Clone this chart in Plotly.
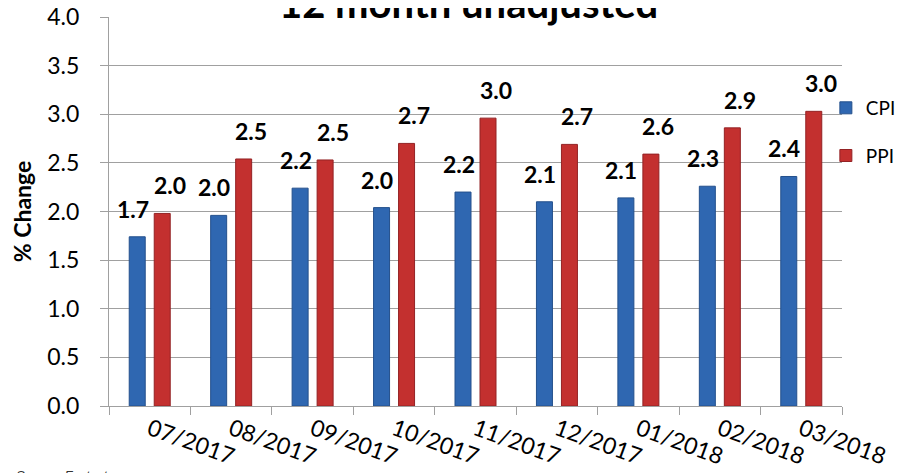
import plotly.graph_objects as go

months = ["07/2017", "08/2017", "09/2017", "10/2017", "11/2017",
          "12/2017", "01/2018", "02/2018", "03/2018"]
cpi = [1.74, 1.96, 2.24, 2.04, 2.20, 2.10, 2.14, 2.26, 2.36]
ppi = [1.98, 2.54, 2.53, 2.70, 2.96, 2.69, 2.59, 2.86, 3.03]
y_ticks = [0.0, 0.5, 1.0, 1.5, 2.0, 2.5, 3.0, 3.5, 4.0]

FONT = "Lato"
GRID = "#A0A0A0"

fig = go.Figure()
fig.add_trace(go.Bar(name="CPI", x=months, y=cpi, legendgroup="a",
                     marker=dict(color="#2F67B1", line=dict(color="#24508C", width=1))))
fig.add_trace(go.Bar(name="PPI", x=months, y=ppi, legendgroup="b",
                     marker=dict(color="#C3302F", line=dict(color="#932224", width=1))))

annotations = []
for vals, xs in ((cpi, -17), (ppi, 20)):
    for m, v in zip(months, vals):
        annotations.append(dict(x=m, y=v, xref="x", yref="y", text=f"{v:.1f}",
                                showarrow=False, xshift=xs, yshift=12, yanchor="bottom",
                                font=dict(family=FONT, size=23, color="black", weight="bold")))

annotations.append(dict(x=0.49, y=0.968, xref="paper", yref="paper",
                        text="<b>12 month unadjusted</b>", showarrow=False,
                        yanchor="bottom", font=dict(family=FONT, size=40, color="black")))
annotations.append(dict(x=-0.13, y=-0.155, xref="paper", yref="paper", xanchor="left",
                        yanchor="top", text="<i>Source: Factset</i>", showarrow=False,
                        font=dict(family="Liberation Sans", size=13, color="#333333")))

fig.update_layout(
    width=905, height=473,
    margin=dict(l=101, r=71, t=9, b=75, autoexpand=False),
    paper_bgcolor="white", plot_bgcolor="white",
    barmode="group", bargap=0.386, bargroupgap=0.36,
    font=dict(family=FONT, size=23, color="black"),
    showlegend=True,
    legend=dict(x=0.978, y=0.815, xanchor="left", yanchor="top", tracegroupgap=20,
                font=dict(family=FONT, size=19), itemwidth=30, bgcolor="rgba(0,0,0,0)"),
    annotations=annotations,
)
fig.update_xaxes(type="category", tickangle=20, showline=True, linecolor=GRID, linewidth=1,
                 ticks="outside", ticklen=8, tickcolor=GRID, tickson="boundaries",
                 showgrid=False, automargin=False, tickfont=dict(family=FONT, size=23))
fig.update_yaxes(range=[0, 4], tickvals=y_ticks, tickformat=".1f", showline=True,
                 linecolor=GRID, linewidth=1, showgrid=True, gridcolor=GRID, gridwidth=1,
                 ticks="outside", ticklen=8, tickcolor=GRID, ticklabelstandoff=16,
                 ticklabeloverflow="allow",
                 zeroline=False, automargin=False, tickfont=dict(family=FONT, size=23),
                 title=dict(text="<b>% Change</b>", font=dict(family=FONT, size=23), standoff=12))

fig.write_html("out.html")
